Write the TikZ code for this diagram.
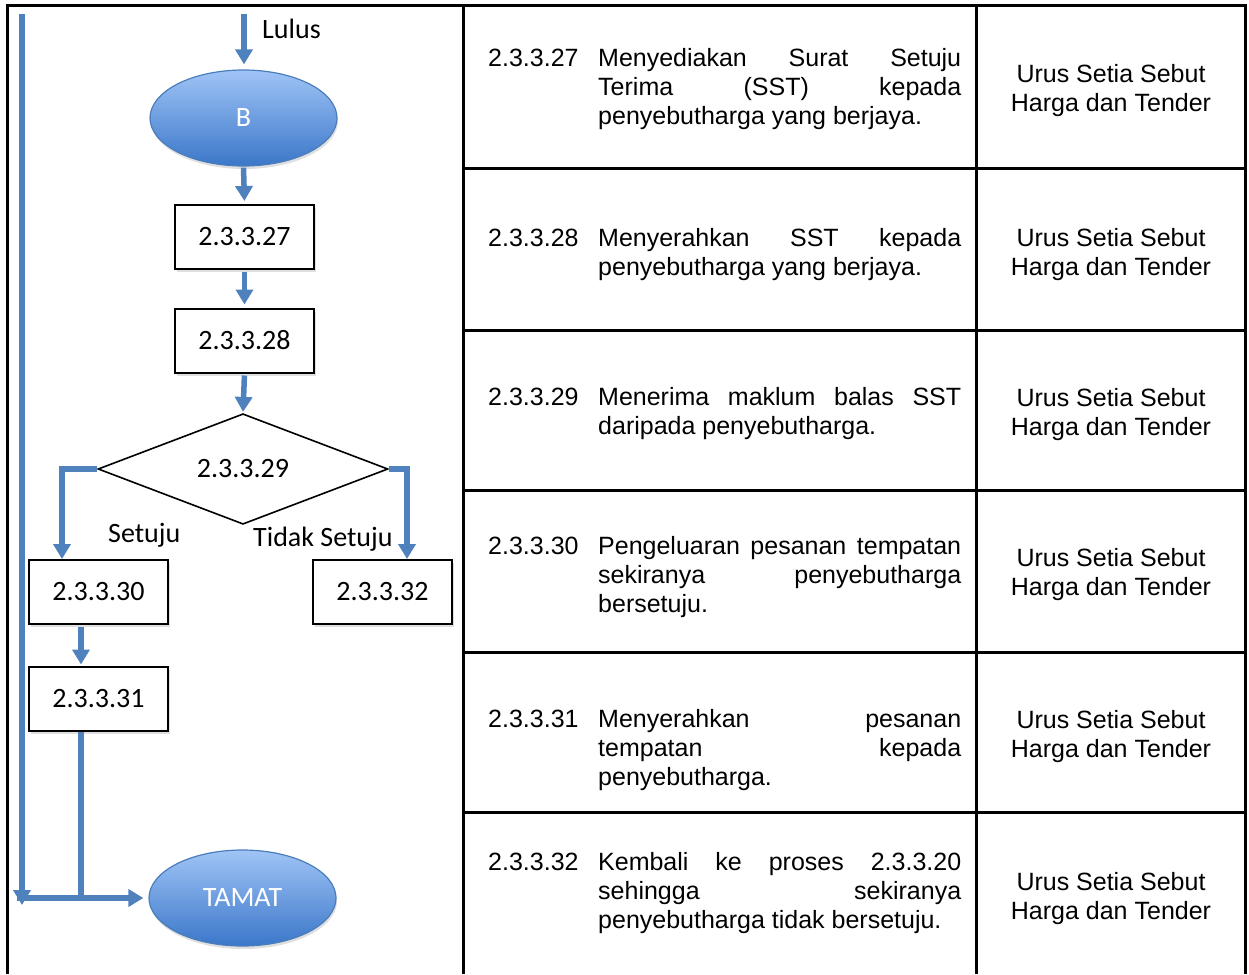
\documentclass[tikz,border=0pt]{standalone}
\usepackage{fontspec}
\setmainfont{Liberation Sans}
\newfontfamily\carl{Carlito}
\usetikzlibrary{shapes.geometric,arrows.meta,shadows,calc}
\definecolor{flowblue}{HTML}{4F81BD}
\definecolor{elltop}{HTML}{A0C4F6}
\definecolor{ellbot}{HTML}{3B77C9}
\definecolor{ellborder}{HTML}{4A7EBB}
\newcommand\jl[1]{\makebox[363pt][s]{#1}\par}
\newcommand\desctab[2]{\begin{tabular}{@{}p{110pt}@{}p{363pt}@{}}#1 & #2\end{tabular}}
\tikzset{
  arr/.style={draw=flowblue, line width=5.5pt, -{Triangle[length=15pt,width=17pt]}},
  flowline/.style={draw=flowblue, line width=5.5pt},
  flowfont/.style={font=\carl\fontsize{28}{32}\selectfont},
  procbox/.style={draw=black, line width=2pt, fill=white, minimum width=139pt, minimum height=64pt, inner sep=0pt, flowfont,
    drop shadow={opacity=0.25, shadow xshift=2pt, shadow yshift=-3pt}},
  term/.style={ellipse, draw=ellborder, line width=1.2pt, top color=elltop, bottom color=ellbot, minimum width=187pt, minimum height=96pt,
    inner sep=0pt, text=white, flowfont, drop shadow={opacity=0.25, shadow xshift=1pt, shadow yshift=-3pt}},
  decision/.style={diamond, draw=black, line width=1.6pt, fill=white, minimum width=290pt, minimum height=108pt, inner sep=0pt, flowfont},
  lbl/.style={flowfont, inner sep=0pt, anchor=base west},
  frameline/.style={draw=black, line width=3pt},
  desc/.style={anchor=west, inner sep=0pt, font=\fontsize{25}{29}\selectfont},
  resp/.style={align=center, inner sep=0pt, font=\fontsize{25}{29}\selectfont},
}
\begin{document}
\begin{tikzpicture}[x=1pt,y=-1pt]
\useasboundingbox (0,0) rectangle (1249,974);
% frame and table
\draw[frameline] (7,974) -- (7,6) -- (1245,6) -- (1245,974);
\draw[frameline] (463,6) -- (463,974);
\draw[frameline] (976,6) -- (976,974);
\foreach \yy in {168,330,490,652,812} \draw[frameline] (463,\yy) -- (1245,\yy);

% flowchart nodes
\node[term] (B) at (243.5,118) {B};
\node[procbox] (b27) at (244.5,237) {2.3.3.27};
\node[procbox] (b28) at (244.5,340.5) {2.3.3.28};
\node[decision] (d29) at (243,469) {2.3.3.29};
\node[procbox] (b30) at (98.5,592) {2.3.3.30};
\node[procbox] (b32) at (382.5,592) {2.3.3.32};
\node[procbox] (b31) at (98.5,698.5) {2.3.3.31};
\node[term] (T) at (242.5,898) {TAMAT};

% labels
\node[lbl] (lulus) at (262,39) {Lulus};
\node[lbl] (setuju) at (108,542) {Setuju};
\node[lbl] (tidak) at (253,546) {Tidak Setuju};

% connectors
\coordinate (lulusstart) at (244,14);
\draw[arr, shorten >=5pt] (lulusstart) -- (lulusstart |- B.north);
\draw[arr, shorten <=1pt, shorten >=3pt] (B.south) -- (b27.north);
\draw[arr, shorten <=2pt, shorten >=3pt] (b27.south) -- (b28.north);
\draw[arr, shorten <=2pt, shorten >=1pt] (b28.south) -- (d29.north);
\coordinate (in30) at ($(b30.north west)+(34,0)$);
\coordinate (in32) at ($(b32.north west)+(95,0)$);
\draw[arr, line join=miter] (d29.west) -| (in30);
\draw[arr, line join=miter] (d29.east) -| (in32);
\coordinate (out30) at ($(b30.south west)+(53,0)$);
\coordinate (in31) at ($(b31.north west)+(53,0)$);
\draw[arr, shorten <=2pt, shorten >=1pt] (out30) -- (in31);
\coordinate (out31) at ($(b31.south west)+(53,0)$);
\draw[flowline] (out31) -- (out31 |- T.west);
\coordinate (loopstart) at (22,14);
\coordinate (loopend) at (22,905);
\draw[arr] (loopstart) -- (loopend);
\coordinate (joinL) at (17,898);
\draw[arr, shorten >=5pt] (joinL) -- (T.west);

% table text
\node[desc] (t27) at (488,90) {\desctab{2.3.3.27}{\jl{Menyediakan Surat Setuju}\jl{Terima (SST) kepada}penyebutharga yang berjaya.}};
\node[resp] (r27) at (1111,91) {Urus Setia Sebut\\Harga dan Tender};
\node[desc] (t28) at (488,255) {\desctab{2.3.3.28}{\jl{Menyerahkan SST kepada}penyebutharga yang berjaya.}};
\node[resp] (r28) at (1111,255) {Urus Setia Sebut\\Harga dan Tender};
\node[desc] (t29) at (488,414.5) {\desctab{2.3.3.29}{\jl{Menerima maklum balas SST}daripada penyebutharga.}};
\node[resp] (r29) at (1111,414.5) {Urus Setia Sebut\\Harga dan Tender};
\node[desc] (t30) at (488,578) {\desctab{2.3.3.30}{\jl{Pengeluaran pesanan tempatan}\jl{sekiranya penyebutharga}bersetuju.}};
\node[resp] (r30) at (1111,575) {Urus Setia Sebut\\Harga dan Tender};
\node[desc] (t31) at (488,751) {\desctab{2.3.3.31}{\jl{Menyerahkan pesanan}\jl{tempatan kepada}penyebutharga.}};
\node[resp] (r31) at (1111,737) {Urus Setia Sebut\\Harga dan Tender};
\node[desc] (t32) at (488,894) {\desctab{2.3.3.32}{\jl{Kembali ke proses 2.3.3.20}\jl{sehingga sekiranya}penyebutharga tidak bersetuju.}};
\node[resp] (r32) at (1111,899) {Urus Setia Sebut\\Harga dan Tender};
\end{tikzpicture}
\end{document}
